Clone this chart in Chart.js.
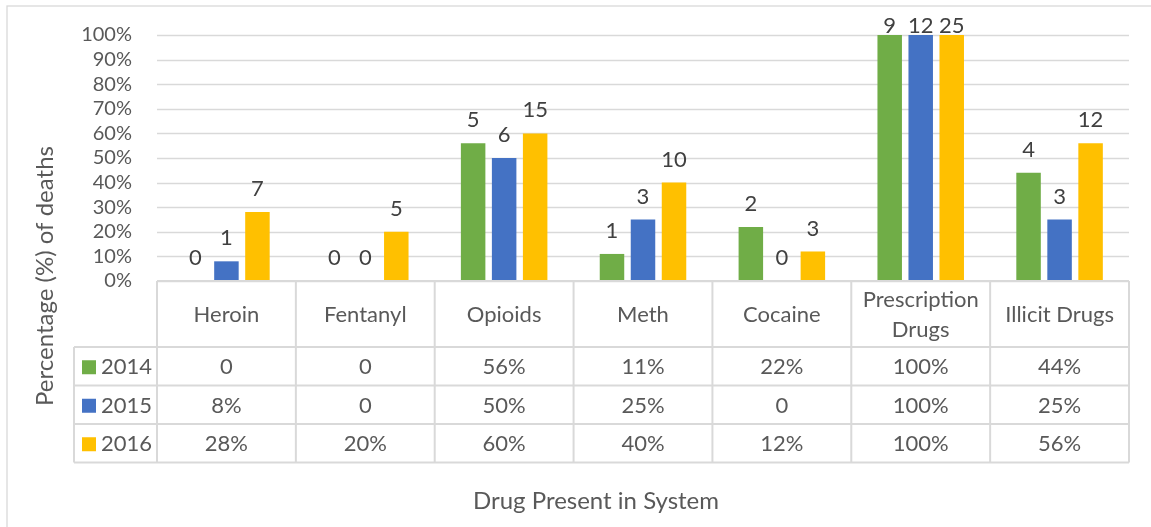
<!DOCTYPE html>
<html>
<head>
<meta charset="utf-8">
<script src="https://cdn.jsdelivr.net/npm/chart.js@4.4.1/dist/chart.umd.min.js"></script>
<style>
  html, body { margin: 0; padding: 0; background: #fff; overflow: hidden; }
  #wrap { width: 1151px; height: 527px; position: relative; }
</style>
</head>
<body>
<div id="wrap"><canvas id="c"></canvas></div>
<script>
// データ
const categories = ['Heroin', 'Fentanyl', 'Opioids', 'Meth', 'Cocaine', ['Prescription', 'Drugs'], 'Illicit Drugs'];
const years = ['2014', '2015', '2016'];
const colors = ['#70AD47', '#4472C4', '#FFC000'];
// 割合 (%)
const pct2014 = [0, 0, 56, 11, 22, 100, 44];
const pct2015 = [8, 0, 50, 25, 0, 100, 25];
const pct2016 = [28, 20, 60, 40, 12, 100, 56];
// 人数（バーの上のラベル）
const count2014 = [0, 0, 5, 1, 2, 9, 4];
const count2015 = [1, 0, 6, 3, 0, 12, 3];
const count2016 = [7, 5, 15, 10, 3, 25, 12];
const yTicks = [0, 10, 20, 30, 40, 50, 60, 70, 80, 90, 100];

const pctSeries = [pct2014, pct2015, pct2016];
const countSeries = [count2014, count2015, count2016];

const FONT = 'Lato, "Open Sans", sans-serif';
const TEXT = '#595959';
const LINE = '#d9d9d9';

// グリッド線（プロット領域内のみ）
const gridPlugin = {
  id: 'grid',
  beforeDatasetsDraw(chart) {
    const ctx = chart.ctx;
    const ca = chart.chartArea;
    const ys = chart.scales.y;
    ctx.save();
    ctx.strokeStyle = LINE;
    ctx.lineWidth = 1.5;
    ctx.beginPath();
    yTicks.forEach(v => {
      const y = Math.round(ys.getPixelForValue(v)) + 0.5;
      ctx.moveTo(ca.left, y);
      ctx.lineTo(ca.right, y);
    });
    ctx.stroke();
    ctx.restore();
  }
};

const tablePlugin = {
  id: 'dataTable',
  afterDraw(chart) {
    const ctx = chart.ctx;
    const xs = chart.scales.x;
    const ca = chart.chartArea;
    const n = categories.length;
    const colW = (ca.right - ca.left) / n;
    const top = ca.bottom;
    const headH = 66;
    const rowH = 38.5;
    const legLeft = 74;
    const bottom = top + headH + rowH * 3;

    ctx.save();
    // 外枠
    ctx.strokeStyle = LINE;
    ctx.lineWidth = 1.3;
    ctx.strokeRect(7, 6, 1200, 600);

    // バーのラベル
    ctx.fillStyle = '#404040';
    ctx.font = '22px ' + FONT;
    ctx.textAlign = 'center';
    ctx.textBaseline = 'middle';
    chart.data.datasets.forEach((ds, di) => {
      const meta = chart.getDatasetMeta(di);
      meta.data.forEach((bar, i) => {
        const y = Math.max(bar.y - 23, 26);
        ctx.fillText(String(countSeries[di][i]), bar.x, y);
      });
    });

    // 表の罫線
    ctx.strokeStyle = LINE;
    ctx.lineWidth = 2;
    ctx.beginPath();
    ctx.moveTo(ca.left, top); ctx.lineTo(ca.right, top);
    ctx.moveTo(legLeft, top + headH); ctx.lineTo(ca.right, top + headH);
    for (let r = 1; r <= 3; r++) {
      const y = top + headH + rowH * r;
      ctx.moveTo(legLeft, y); ctx.lineTo(ca.right, y);
    }
    for (let i = 0; i <= n; i++) {
      const x = ca.left + colW * i;
      ctx.moveTo(x, top); ctx.lineTo(x, bottom);
    }
    ctx.moveTo(legLeft, top + headH); ctx.lineTo(legLeft, bottom);
    ctx.stroke();

    // 見出し
    ctx.fillStyle = TEXT;
    ctx.font = '22px ' + FONT;
    categories.forEach((c, i) => {
      const x = xs.getPixelForValue(i);
      const cy = top + headH / 2 + 1;
      if (Array.isArray(c)) {
        ctx.fillText(c[0], x, cy - 15);
        ctx.fillText(c[1], x, cy + 15);
      } else {
        ctx.fillText(c, x, cy);
      }
    });

    // 行
    years.forEach((yr, r) => {
      const cy = top + headH + rowH * r + rowH / 2 + 1;
      ctx.fillStyle = colors[r];
      ctx.fillRect(82, cy - 7, 14, 14);
      ctx.fillStyle = TEXT;
      ctx.textAlign = 'left';
      ctx.fillText(yr, 101, cy);
      ctx.textAlign = 'center';
      pctSeries[r].forEach((v, i) => {
        ctx.fillText(v === 0 ? '0' : v + '%', xs.getPixelForValue(i), cy);
      });
    });

    // 軸タイトル
    ctx.font = '24px ' + FONT;
    ctx.fillText('Drug Present in System', 596, 501);
    ctx.translate(45, 276);
    ctx.rotate(-Math.PI / 2);
    ctx.fillText('Percentage (%) of deaths', 0, 0);
    ctx.restore();
  }
};

new Chart(document.getElementById('c'), {
  type: 'bar',
  data: {
    labels: categories,
    datasets: years.map((y, i) => ({
      label: y,
      data: pctSeries[i],
      backgroundColor: colors[i],
      categoryPercentage: 0.67,
      barPercentage: 0.79
    }))
  },
  options: {
    responsive: true,
    maintainAspectRatio: false,
    animation: false,
    layout: { padding: { left: 0, top: 35, right: 22, bottom: 246 } },
    plugins: {
      legend: { display: false },
      tooltip: { enabled: false }
    },
    scales: {
      x: { display: false },
      y: {
        min: 0,
        max: 100,
        afterFit(scale) { scale.width = 157; },
        afterBuildTicks(scale) { scale.ticks = yTicks.map(v => ({ value: v })); },
        border: { display: false },
        grid: { display: false },
        ticks: {
          autoSkip: false,
          padding: 17,
          color: TEXT,
          font: { family: FONT, size: 20 },
          callback: v => v + '%'
        }
      }
    }
  },
  plugins: [gridPlugin, tablePlugin]
});
</script>
</body>
</html>
